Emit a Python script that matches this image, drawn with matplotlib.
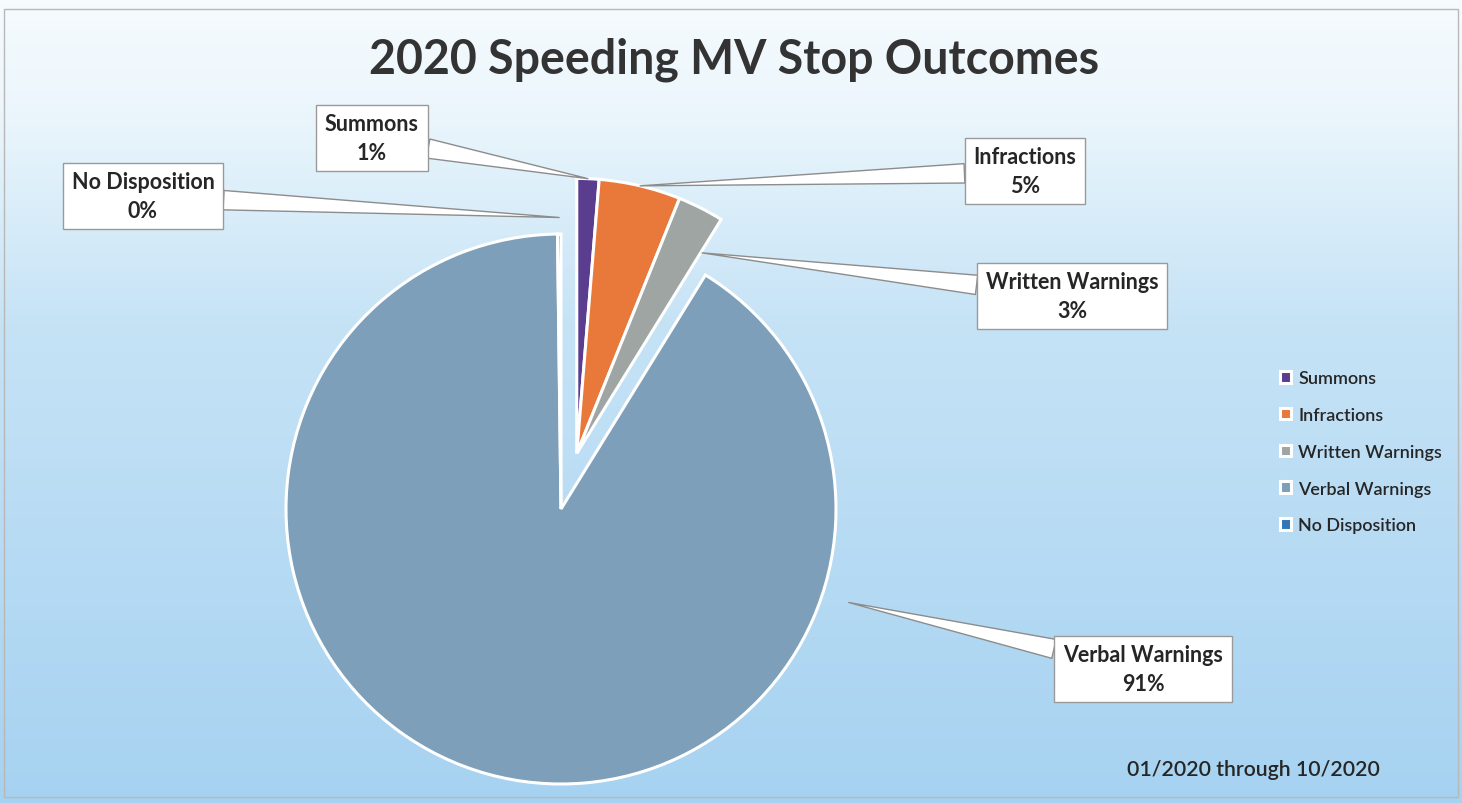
import numpy as np
import matplotlib.pyplot as plt
from matplotlib.colors import LinearSegmentedColormap
from matplotlib.patches import Rectangle

plt.rcParams['font.family'] = ['Lato', 'DejaVu Sans']

# data (percent of speeding stops)
categories = ['Summons', 'Infractions', 'Written Warnings', 'Verbal Warnings', 'No Disposition']
shares = [1.3, 4.8, 2.7, 91.0, 0.2]
pct_labels = ['1%', '5%', '3%', '91%', '0%']
colors = ['#5a3d8f', '#e8793a', '#9ea5a3', '#7d9fb9', '#2f78b8']

W, H = 1462, 804
fig = plt.figure(figsize=(W / 100, H / 100), dpi=100)
ax = fig.add_axes([0, 0, 1, 1])

# background gradient, whitish at top to light blue at bottom
bg = LinearSegmentedColormap.from_list('bg', [(0, '#f6fbfe'), (0.14, '#ebf6fc'),
                                              (0.4, '#c6e3f6'), (1, '#a6d2f1')])
grad = np.linspace(0, 1, 256).reshape(-1, 1)
ax.imshow(grad, cmap=bg, extent=[0, W, 0, H], aspect='auto', zorder=0)
ax.add_patch(Rectangle((4, H - 798), W - 8, 788, fill=False, ec='#b8b8b8', lw=1, zorder=1))

# pie
cx, cy, R = 561, H - 510, 275
wedges, _ = ax.pie(shares, colors=colors, startangle=90, counterclock=False,
                   center=(cx, cy), radius=R,
                   wedgeprops=dict(edgecolor='white', linewidth=2.2))

# the three small slices are pulled out together
mid = np.deg2rad((wedges[0].theta2 + wedges[2].theta1) / 2)
off = 0.21 * R
dx, dy = off * np.cos(mid), off * np.sin(mid)
for w in wedges[:3]:
    w.set_center((cx + dx, cy + dy))

# callout boxes (pixel position from top-left) and where their pointer lands
box_pos = [(372, 139), (1025, 172), (1072, 297), (1143, 670), (143, 197)]
anchor = [(None, 1.0), (None, 1.0), (58, 0.86), (-18, 1.1), (None, 1.06)]

for i, w in enumerate(wedges):
    ang, rf = anchor[i]
    if ang is None:
        ang = (w.theta1 + w.theta2) / 2
    a = np.deg2rad(ang)
    wx, wy = w.center
    tx, ty = wx + rf * R * np.cos(a), wy + rf * R * np.sin(a)
    bx, by = box_pos[i]
    ax.annotate(f'{categories[i]}\n{pct_labels[i]}', xy=(tx, ty), xytext=(bx, H - by),
                ha='center', va='center', fontsize=15.5, fontweight='bold',
                color='#262626', linespacing=1.45,
                bbox=dict(boxstyle='square,pad=0.4', fc='white', ec='#9a9a9a', lw=1),
                arrowprops=dict(arrowstyle='wedge,tail_width=0.9,shrink_factor=0.5',
                                fc='white', ec='#8c8c8c', lw=1, shrinkA=0, shrinkB=0),
                zorder=5)

leg = ax.legend(wedges, categories, loc='upper left',
                bbox_to_anchor=(1264 / W, 1 - 355 / H), frameon=False,
                prop=dict(size=13, weight='semibold'), labelspacing=1.15,
                handlelength=0.6, handleheight=0.6, handletextpad=0.4,
                labelcolor='#262626')

fig.text(0.502, 1 - 60 / H, '2020 Speeding MV Stop Outcomes', ha='center', va='center',
         fontsize=33.5, fontweight='bold', color='#333333')
ax.text(1253, H - 770, '01/2020 through 10/2020', ha='center', va='center',
        fontsize=15.3, fontweight='semibold', color='#262626')

ax.set_xlim(0, W)
ax.set_ylim(0, H)
ax.set_aspect('auto')
ax.axis('off')

fig.savefig('out.png', dpi=100)
